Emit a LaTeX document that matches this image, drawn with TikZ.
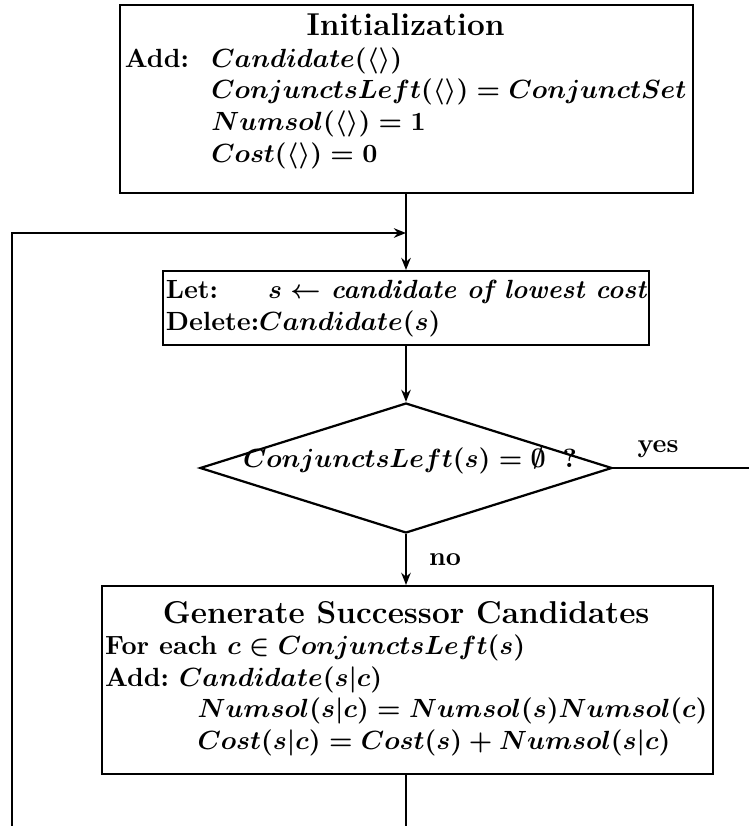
\documentclass[tikz,border=0pt]{standalone}
\usetikzlibrary{arrows.meta,shapes.geometric}
\begin{document}
\begin{tikzpicture}[x=0.38pt,y=-0.38pt,
  every node/.style={font=\bfseries\boldmath},
  box/.style={draw,line width=0.85pt,rectangle,inner ysep=2pt},
  flow/.style={line width=0.85pt},
  arr/.style={flow,-{Stealth[length=4.6pt,width=3.6pt]}}]
\useasboundingbox (0,0) rectangle (749,826);

% process boxes
\node[box,inner xsep=1.9pt,minimum height=71.4pt] (init) at (406.5,99) {%
  \makebox[214pt][l]{%
  \begin{tabular}{@{}l@{\hspace{8.5pt}}l@{}}
  \multicolumn{2}{c}{\large Initialization}\\
  Add: & $Candidate(\langle\rangle)$\\
       & $ConjunctsLeft(\langle\rangle) = ConjunctSet$\\
       & $Numsol(\langle\rangle) = 1$\\
       & $Cost(\langle\rangle) = 0$\rule[-8.5pt]{0pt}{8.5pt}
  \end{tabular}}};

\node[box,inner xsep=1.2pt,anchor=north] (let) at (406,270) {%
  \makebox[182.5pt][l]{%
  \begin{tabular}{@{}l@{}}
  Let:\hspace{1.9em}$s \leftarrow$ \textit{candidate of lowest cost}\\
  Delete:$Candidate(s)$
  \end{tabular}}};

% decision
\node[draw,line width=0.85pt,diamond,minimum width=156.6pt,minimum height=49.4pt,inner sep=0pt] (dec) at (406,468) {};
\node (dectext) at (410,461) {$ConjunctsLeft(s) = \emptyset\;\;?$};

\node[box,inner xsep=1.14pt,minimum height=71.4pt] (gen) at (407.5,680) {%
  \makebox[229.9pt][l]{%
  \begin{tabular}{@{}l@{\ }l@{}}
  \multicolumn{2}{c}{\large Generate Successor Candidates}\\
  \multicolumn{2}{@{}l@{}}{For each $c \in ConjunctsLeft(s)$}\\
  Add: & $Candidate(s|c)$\\
       & \hspace{7pt}$Numsol(s|c) = Numsol(s)Numsol(c)$\\
       & \hspace{7pt}$Cost(s|c) = Cost(s) + Numsol(s|c)$
  \end{tabular}}};

% connector end points
\coordinate (jn) at (406,233);
\coordinate (loopend) at (12,826);
\coordinate (genend) at (406,826);
\coordinate (yesend) at (749,468);

% connectors
\draw[flow] (init.south -| jn) -- (jn);
\draw[arr] (jn) -- (let.north -| jn);
\draw[arr] (let.south -| jn) -- (dec.north);
\draw[arr] (dec.south) -- node[right=5pt] (nolabel) {no} (gen.north -| dec.south);
\draw[flow] (dec.east) -- node[above,pos=0.33] (yeslabel) {yes} (yesend);
\draw[flow] (gen.south -| dec.south) -- (genend);
\draw[arr] (loopend) |- (jn);
\end{tikzpicture}
\end{document}
